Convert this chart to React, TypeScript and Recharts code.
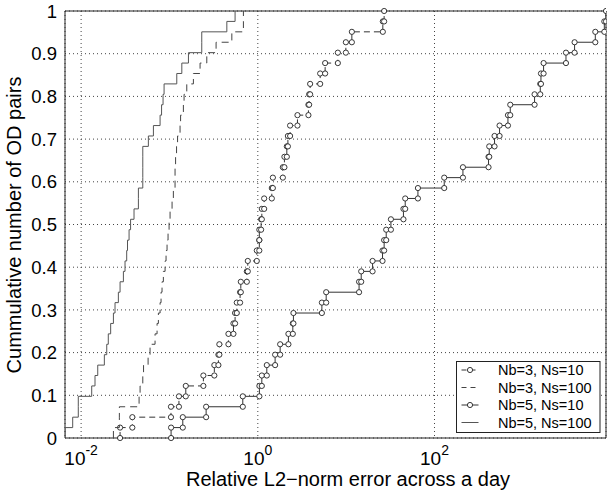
import React from 'react';
import { ScatterChart, Scatter, XAxis, YAxis, CartesianGrid, ReferenceArea } from 'recharts';

// Sorted relative L2-norm errors, one value per OD pair (41 pairs per run)
const nb3ns10 = [
  0.0276, 0.038, 0.104, 0.128, 0.153, 0.242, 0.322, 0.358, 0.367, 0.465, 0.53,
  0.553, 0.578, 0.63, 0.642, 0.751, 0.77, 0.974, 1.04, 1.04, 1.09, 1.11, 1.18,
  1.44, 1.48, 1.92, 2.0, 2.13, 2.19, 2.32, 2.81, 3.74, 3.81, 3.91, 5.08, 5.78,
  8.05, 9.92, 11.6, 26.0, 26.9,
];
const nb3ns100 = [
  0.0232, 0.0271, 0.0271, 0.0453, 0.0465, 0.0499, 0.0509, 0.0573, 0.0603, 0.0687,
  0.0724, 0.0749, 0.0783, 0.0803, 0.0824, 0.0853, 0.0892, 0.0915, 0.0939, 0.0964,
  0.099, 0.1016, 0.107, 0.1107, 0.1157, 0.1157, 0.1173, 0.1203, 0.1235, 0.1318,
  0.1336, 0.1437, 0.1463, 0.157, 0.1866, 0.222, 0.2645, 0.337, 0.508, 0.687, 0.687,
];
const nb5ns10 = [
  0.1043, 0.1415, 0.26, 0.676, 1.042, 1.11, 1.264, 1.57, 1.79, 2.22, 2.49, 2.53,
  5.31, 5.94, 14.0, 14.8, 19.9, 25.8, 26.9, 28.4, 32.1, 44.5, 46.6, 64.9, 128.8,
  209.7, 408.8, 416.4, 478, 545, 678, 720, 1357, 1574, 1603, 1716, 3076, 3850,
  6607, 8356, 8730,
];
const nb5ns100 = [
  0.00657, 0.00803, 0.00929, 0.00929, 0.01318, 0.01436, 0.01542, 0.01832, 0.0195,
  0.0203, 0.0216, 0.0232, 0.0242, 0.0264, 0.0276, 0.0301, 0.0314, 0.0328, 0.0335,
  0.0349, 0.0363, 0.0397, 0.0445, 0.0445, 0.0499, 0.0499, 0.0499, 0.0499, 0.0577,
  0.0658, 0.0783, 0.0814, 0.0846, 0.0869, 0.121, 0.138, 0.164, 0.232, 0.232,
  0.446, 0.553,
];

const seriesNames = ['Nb=3, Ns=10', 'Nb=3, Ns=100', 'Nb=5, Ns=10', 'Nb=5, Ns=100'];

const yTicks = [0, 0.1, 0.2, 0.3, 0.4, 0.5, 0.6, 0.7, 0.8, 0.9, 1];
const yTickLabels = ['0', '0.1', '0.2', '0.3', '0.4', '0.5', '0.6', '0.7', '0.8', '0.9', '1'];
const xTicks = [0.01, 1, 100];
const xTickExponents = ['-2', '0', '2'];

const FONT = '"Liberation Sans", Arial, Helvetica, sans-serif';
const W = 607;
const H = 494;

// staircase vertices of an empirical CDF: (x1,0),(x1,1/n),(x2,1/n),(x2,2/n),...
function cdfSteps(errors: number[]) {
  const n = errors.length;
  const pts: { x: number; y: number }[] = [];
  errors.forEach((x, i) => {
    pts.push({ x, y: i / n });
    pts.push({ x, y: (i + 1) / n });
  });
  return pts;
}

const all = [...nb3ns10, ...nb3ns100, ...nb5ns10, ...nb5ns100];
const xDomain: [number, number] = [Math.min(...all), Math.max(...all)];

const series = [
  { name: seriesNames[0], data: cdfSteps(nb3ns10), stroke: '#333', dash: '6 4', marker: true },
  { name: seriesNames[1], data: cdfSteps(nb3ns100), stroke: '#444', dash: '7 5', marker: false },
  { name: seriesNames[2], data: cdfSteps(nb5ns10), stroke: '#333', dash: undefined, marker: true },
  { name: seriesNames[3], data: cdfSteps(nb5ns100), stroke: '#555', dash: undefined, marker: false },
];

const Circle = (props: any) => {
  const { cx, cy } = props;
  if (cx == null || cy == null) return <g />;
  return <circle cx={cx} cy={cy} r={2.6} fill="#fff" stroke="#222" strokeWidth={0.9} />;
};
const NoMarker = () => <g />;

const XTick = (props: any) => {
  const { x, y, payload } = props;
  const idx = xTicks.indexOf(payload.value);
  return (
    <text x={x} y={y + 25} textAnchor="middle" fontSize={19} fontFamily={FONT} fill="#000">
      <tspan>10</tspan>
      <tspan dy={-10} fontSize={14}>{xTickExponents[idx]}</tspan>
    </text>
  );
};

const YTick = (props: any) => {
  const { x, y, payload } = props;
  const idx = yTicks.indexOf(payload.value);
  return (
    <text x={x - 6} y={y} dy="0.36em" textAnchor="end" fontSize={18.5} fontFamily={FONT} fill="#000">
      {yTickLabels[idx]}
    </text>
  );
};

const XTitle = () => (
  <text x={348} y={486} textAnchor="middle" fontSize={20} fontFamily={FONT} fill="#000">
    Relative L2−norm error across a day
  </text>
);

const YTitle = () => (
  <text
    x={21}
    y={225}
    transform="rotate(-90 21 225)"
    textAnchor="middle"
    fontSize={20}
    fontFamily={FONT}
    fill="#000"
  >
    Cummulative number of OD pairs
  </text>
);

function LegendBox() {
  const x0 = 456.5;
  const y0 = 361.5;
  const rows = [370, 387.5, 405, 422.5];
  return (
    <svg width={W} height={H} style={{ position: 'absolute', left: 0, top: 0, pointerEvents: 'none' }}>
      <rect x={x0} y={y0} width={143.5} height={71} fill="#fff" stroke="#222" strokeWidth={1} />
      {series.map((s, i) => (
        <g key={s.name}>
          <line
            x1={461.5}
            x2={478.5}
            y1={rows[i]}
            y2={rows[i]}
            stroke={s.stroke}
            strokeWidth={1}
            strokeDasharray={s.dash ? '5 4' : undefined}
          />
          {s.marker && <circle cx={470} cy={rows[i]} r={2.6} fill="#fff" stroke="#222" strokeWidth={0.9} />}
          <text x={498} y={rows[i]} dy="0.36em" fontSize={14.5} fontFamily={FONT} fill="#000">
            {s.name}
          </text>
        </g>
      ))}
    </svg>
  );
}

export default function App() {
  return (
    <div style={{ position: 'absolute', left: 0, top: 0, width: W, height: H, background: '#fff' }}>
      <ScatterChart width={W} height={H} margin={{ top: 11, right: 1, bottom: 0, left: 0 }}>
        <CartesianGrid strokeDasharray="1 3" stroke="#444" />
        <XAxis
          type="number"
          dataKey="x"
          scale="log"
          domain={xDomain}
          allowDataOverflow
          ticks={xTicks}
          interval={0}
          tick={<XTick />}
          tickLine={false}
          tickSize={0}
          axisLine={false}
          height={56}
          label={XTitle}
        />
        <YAxis
          type="number"
          dataKey="y"
          domain={[0, 1]}
          ticks={yTicks}
          interval={0}
          tick={<YTick />}
          tickLine={false}
          tickSize={0}
          axisLine={false}
          width={65}
          label={YTitle}
        />
        <ReferenceArea
          x1={xDomain[0]}
          x2={xDomain[1]}
          y1={0}
          y2={1}
          fill="none"
          fillOpacity={0}
          stroke="#222"
          strokeWidth={1}
          ifOverflow="visible"
        />
        {series.map((s) => (
          <Scatter
            key={s.name}
            name={s.name}
            data={s.data}
            line={{ stroke: s.stroke, strokeWidth: 1, strokeDasharray: s.dash }}
            lineType="joint"
            shape={s.marker ? <Circle /> : <NoMarker />}
            isAnimationActive={false}
          />
        ))}
      </ScatterChart>
      <LegendBox />
    </div>
  );
}
